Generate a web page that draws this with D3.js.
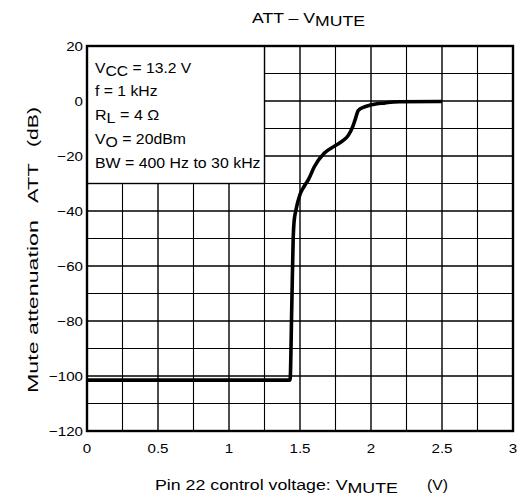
<!DOCTYPE html>
<html><head><meta charset="utf-8">
<script src="https://cdn.jsdelivr.net/npm/d3@7"></script>
<style>body{margin:0;background:#fff}svg{display:block}text{font-family:"Liberation Sans",Arial,sans-serif;fill:#000}</style>
</head><body><svg id="c" width="523" height="499"></svg>
<script>
const vmute = [0, 1.43, 1.442, 1.452, 1.458, 1.47, 1.50, 1.53, 1.56, 1.60, 1.67, 1.74, 1.80, 1.84, 1.87, 1.89, 1.91, 1.95, 2.0, 2.1, 2.2, 2.5];
const att   = [-101.5, -101.5, -75, -50, -44, -40, -34, -31, -28.5, -24, -19, -16.5, -14.5, -12.5, -9.5, -6.5, -3.5, -2.2, -1.4, -0.7, -0.3, -0.2];
const xTicks = [0, 0.5, 1, 1.5, 2, 2.5, 3];
const xTickLabels = ["0", "0.5", "1", "1.5", "2", "2.5", "3"];
const yTicks = [20, 0, -20, -40, -60, -80, -100, -120];
const yTickLabels = ["20", "0", "\u221220", "\u221240", "\u221260", "\u221280", "\u2212100", "\u2212120"];
const legendLines = [["V","CC"," = 13.2 V"],["f = 1 kHz","",""],["R","L"," = 4 \u03a9"],["V","O"," = 20dBm"],["BW = 400 Hz to 30 kHz","",""]];
const legendEnds = [191.7, 157.7, 159, 186, 260.7];

const svg = d3.select("#c");
const L=87, R=513, T=46, B=431;
const x = d3.scaleLinear().domain([0,3]).range([L,R]);
const y = d3.scaleLinear().domain([-120,20]).range([B,T]);

function stretch(sel, x0, s){
  sel.attr("transform", `translate(${x0},0) scale(${s},1) translate(${-x0},0)`);
}
function fit(sel, x0, target){
  const w = sel.node().getBBox().width;
  stretch(sel, x0, target/w);
}

// grid
const g = svg.append("g");
d3.range(0.25, 3, 0.25).forEach(v=>{
  g.append("line").attr("x1",x(v)).attr("x2",x(v)).attr("y1",T).attr("y2",B)
   .attr("stroke","#000").attr("stroke-width", Math.abs(v*2-Math.round(v*2))<1e-6?1.4:1.1);
});
d3.range(-110, 20, 10).forEach(v=>{
  g.append("line").attr("x1",L).attr("x2",R).attr("y1",y(v)).attr("y2",y(v))
   .attr("stroke","#000").attr("stroke-width", v%20===0?1.4:1.1);
});

// legend box
svg.append("rect").attr("x",x(0)).attr("y",y(20)).attr("width",x(1.25)-x(0)).attr("height",y(-30)-y(20))
  .attr("fill","#fff").attr("stroke","#000").attr("stroke-width",1.4);
legendLines.forEach((l,i)=>{
  const t = svg.append("text").attr("x",95).attr("y",72.7+i*23.75).attr("font-size",14.5);
  t.append("tspan").text(l[0]);
  if(l[1]){ t.append("tspan").attr("dy",3).text(l[1]); t.append("tspan").attr("dy",-3).text(l[2]); }
  fit(t, 95, legendEnds[i]-95);
});

// curve
const pts = vmute.map((v,i)=>[v,att[i]]);
svg.append("path").datum(pts)
  .attr("d", d3.line().x(d=>x(d[0])).y(d=>y(d[1])).curve(d3.curveMonotoneX))
  .attr("fill","none").attr("stroke","#000").attr("stroke-width",3.6).attr("stroke-linejoin","round");

// frame
svg.append("rect").attr("x",L).attr("y",T).attr("width",R-L).attr("height",B-T)
  .attr("fill","none").attr("stroke","#000").attr("stroke-width",2.4);

// tick labels
xTicks.forEach((v,i)=>{
  const t=svg.append("text").attr("x",x(v)).attr("y",B+22).attr("text-anchor","middle").attr("font-size",13.5).text(xTickLabels[i]);
  stretch(t, x(v), 1.12);
});
yTicks.forEach((v,i)=>{
  const t=svg.append("text").attr("x",L-4).attr("y",y(v)+5).attr("text-anchor","end").attr("font-size",13.5).text(yTickLabels[i]);
  stretch(t, L-4, 1.12);
});

// title
const tt = svg.append("text").attr("x",252).attr("y",23).attr("font-size",15);
tt.append("tspan").text("ATT \u2013 V"); tt.append("tspan").attr("dy",3.5).text("MUTE");
fit(tt, 252, 365-252);

// x label
const xl1 = svg.append("text").attr("x",155).attr("y",490).attr("font-size",15);
xl1.append("tspan").text("Pin 22 control voltage: V");
xl1.append("tspan").attr("dy",3.5).text("MUTE");
fit(xl1, 155, 398-155);
const xl2 = svg.append("text").attr("x",427).attr("y",490).attr("font-size",15).text("(V)");
fit(xl2, 427, 21);

// y label pieces (rotated)
const yg = svg.append("g").attr("transform","translate(38,0) rotate(-90)");
[["Mute attenuation",-393,173],["ATT",-203,40],["(dB)",-147,40]].forEach(p=>{
  const t = yg.append("text").attr("x",p[1]).attr("y",0).attr("font-size",14.5).text(p[0]);
  fit(t, p[1], p[2]);
});
</script></body></html>
